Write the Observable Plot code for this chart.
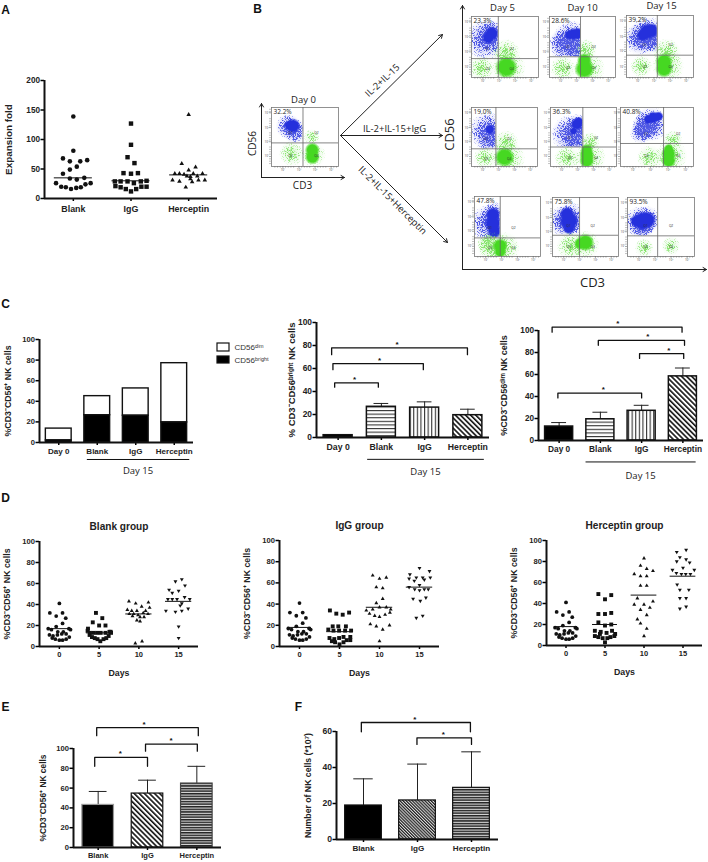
<!DOCTYPE html>
<html><head><meta charset="utf-8">
<script src="https://cdn.jsdelivr.net/npm/d3@7"></script>
<script src="https://cdn.jsdelivr.net/npm/@observablehq/plot@0.6"></script>
<style>
html,body{margin:0;padding:0;background:#fff;overflow:hidden}
#root{position:relative;width:708px;height:862px;overflow:hidden}
#root svg{position:absolute;overflow:visible;background:transparent}
</style></head><body>
<svg width="0" height="0" style="position:absolute">
<defs>
<pattern id="hl" width="3" height="3.6" patternUnits="userSpaceOnUse"><rect width="3" height="3.6" fill="#fff"/><rect width="3" height="1.1" fill="#333"/></pattern>
<pattern id="vl" width="3.6" height="3" patternUnits="userSpaceOnUse"><rect width="3.6" height="3" fill="#fff"/><rect width="1.1" height="3" fill="#333"/></pattern>
<pattern id="dg" width="3.6" height="3.6" patternUnits="userSpaceOnUse" patternTransform="rotate(-45)"><rect width="3.6" height="3.6" fill="#fff"/><rect width="1.6" height="3.6" fill="#111"/></pattern>
<pattern id="dgf" width="2.2" height="2.2" patternUnits="userSpaceOnUse" patternTransform="rotate(-45)"><rect width="2.2" height="2.2" fill="#ddd"/><rect width="1.2" height="2.2" fill="#222"/></pattern>
<pattern id="hlf" width="3" height="2.6" patternUnits="userSpaceOnUse"><rect width="3" height="2.6" fill="#ddd"/><rect width="3" height="1.5" fill="#222"/></pattern>
<radialGradient id="gB"><stop offset="0" stop-color="#2d38dc"/><stop offset=".5" stop-color="#2d38dc" stop-opacity=".65"/><stop offset="1" stop-color="#2d38dc" stop-opacity="0"/></radialGradient>
<radialGradient id="gG"><stop offset="0" stop-color="#46d822"/><stop offset=".45" stop-color="#46d822" stop-opacity=".5"/><stop offset="1" stop-color="#46d822" stop-opacity="0"/></radialGradient>
<radialGradient id="cB"><stop offset="0" stop-color="#2530dc"/><stop offset=".65" stop-color="#2530dc"/><stop offset="1" stop-color="#2530dc" stop-opacity=".1"/></radialGradient>
<radialGradient id="cG"><stop offset="0" stop-color="#46d822"/><stop offset=".65" stop-color="#46d822"/><stop offset="1" stop-color="#46d822" stop-opacity=".1"/></radialGradient>
<filter id="stB" x="-10%" y="-10%" width="120%" height="120%" color-interpolation-filters="sRGB">
 <feTurbulence type="fractalNoise" baseFrequency="1.5" numOctaves="2" seed="4" result="n"/>
 <feColorMatrix in="n" type="matrix" values="0 0 0 0 0 0 0 0 0 0 0 0 0 0 0 3 0 0 0 -1" result="na"/>
 <feComposite in="SourceAlpha" in2="na" operator="arithmetic" k1="0" k2="1" k3="1" k4="-1" result="m"/>
 <feComponentTransfer in="m" result="mm"><feFuncA type="linear" slope="2.5"/></feComponentTransfer>
 <feFlood flood-color="#4f58e4"/><feComposite in2="mm" operator="in"/>
</filter>
<filter id="stG" x="-10%" y="-10%" width="120%" height="120%" color-interpolation-filters="sRGB">
 <feTurbulence type="fractalNoise" baseFrequency="1.5" numOctaves="2" seed="9" result="n"/>
 <feColorMatrix in="n" type="matrix" values="0 0 0 0 0 0 0 0 0 0 0 0 0 0 0 3 0 0 0 -1" result="na"/>
 <feComposite in="SourceAlpha" in2="na" operator="arithmetic" k1="0" k2="1" k3="1" k4="-1" result="m"/>
 <feComponentTransfer in="m" result="mm"><feFuncA type="linear" slope="2"/></feComponentTransfer>
 <feFlood flood-color="#86e46c"/><feComposite in2="mm" operator="in"/>
</filter>
</defs></svg>
<div id="root"></div>
<script>
// ---------- Panel A ----------
const expansionGroups = ["Blank","IgG","Herceptin"];
const expBlank = [[0,139],[0,81],[-.18,68],[-.06,63],[.12,63],[.24,65],[.06,54],[-.06,49],[-.18,42],[-.06,34],[.06,32],[.19,35],[-.3,26],[-.21,20],[-.13,19],[-.04,16],[.05,18],[.13,19],[.21,24],[.3,26]];
const expIgG = [[0,127],[0,91],[-.06,70],[.06,60],[-.13,43],[0,42],[.12,43],[-.28,29],[-.18,29],[-.06,29],[.17,29],[.27,30],[-.27,21],[-.18,19],[-.09,16],[0,12],[.09,16],[.18,20],[.27,20],[.05,26]];
const expHer = [[0,142],[-.12,59],[.12,53],[0,48],[-.24,42],[-.16,42],[-.08,41],[.08,42],[.24,42],[-.03,38],[.03,37],[.15,38],[-.28,31],[-.16,29],[.03,33],[.06,28],[.17,31],[.28,31],[-.05,19]];
const expMedians = [35,30,40];
// ---------- Panel D ----------
const dayLabels = ["0","5","10","15"];
const day0 = [[0,41],[-.24,32],[.08,32],[-.08,29],[.16,27],[.08,22],[-.08,19],[-.28,17],[-.2,16],[.24,17],[.28,16],[-.04,14],[.1,14],[-.25,11],[-.16,10],[-.05,11],[.06,12],[.17,12],[-.18,8],[-.1,7],[0,6],[.08,6],[.17,7],[.25,9]];
const blank5 = [[-.08,32],[.08,27],[-.16,23],[0,20],[.16,20],[-.28,17],[-.29,15],[-.23,13],[-.14,13],[-.05,13],[.04,13],[.16,13],[.26,14],[.29,14],[-.24,11],[-.18,9],[-.11,8],[-.04,7],[.03,5],[.11,7],[.18,8],[.24,10],[.3,13]];
const blank10 = [[-.25,43],[-.08,41],[.24,42],[.07,38],[.27,37],[-.29,35],[-.18,34],[-.05,34],[.17,34],[-.24,31],[-.13,31],[-.02,30],[.11,32],[.23,31],[-.16,29],[.03,28],[.13,28],[-.05,25],[.03,24],[-.09,3],[.08,5]];
const blank15 = [[.08,64],[-.08,62],[.16,58],[-.24,54],[-.16,51],[0,53],[-.27,45],[-.16,45],[-.04,45],[.15,47],[.28,45],[.08,41],[.04,39],[-.32,34],[-.08,33],[.08,34],[.24,36],[0,19],[0,8]];
const igg5 = [[-.24,34],[-.08,31],[.08,30],[.24,32],[-.17,19],[-.03,19],[.16,19],[-.28,16],[-.15,15],[-.01,15],[.14,15],[.29,15],[-.25,8],[-.13,7],[-.01,8],[.1,9],[.27,9],[-.19,5],[-.11,4],[0,2],[.1,4],[.18,6],[.27,6]];
const igg10 = [[-.17,67],[0,64],[.17,65],[-.08,56],[.08,55],[-.08,41],[.08,45],[-.33,34],[-.17,35],[0,37],[.17,37],[.28,35],[-.25,31],[-.12,29],[0,28],[.14,30],[.26,32],[-.23,21],[-.08,19],[.08,16],[.25,20],[0,5]];
const igg15 = [[0,74],[.25,71],[-.24,68],[-.26,64],[-.08,65],[.08,65],[.27,65],[-.13,62],[.12,63],[-.26,56],[0,58],[-.12,54],[0,53],[.12,54],[.22,54],[-.16,45],[.02,43],[.16,46],[-.08,27],[.08,29]];
const her5 = [[-.17,49],[0,44],[.16,48],[-.17,30],[0,30],[.16,31],[-.17,22],[0,19],[.16,20],[-.26,14],[-.11,13],[.04,12],[.18,14],[-.26,9],[-.17,8],[-.06,7],[0,3],[.06,7],[.14,8],[.24,9],[-.13,11],[.26,11]];
const her10 = [[0,83],[-.09,76],[.07,73],[.23,71],[-.25,68],[-.09,66],[.07,66],[-.09,57],[.07,57],[-.17,45],[.23,42],[0,39],[-.25,39],[.15,36],[-.09,34],[.07,29],[-.17,25],[-.09,21],[.07,16],[0,9]];
const her15 = [[.08,91],[-.16,89],[-.08,84],[-.16,80],[.08,82],[.17,79],[0,74],[-.27,72],[.29,72],[-.17,69],[-.04,68],[.07,68],[.19,68],[-.15,58],[-.08,53],[.15,53],[-.08,45],[.08,45],[-.08,35],[.08,37]];
const blankMedians = [17,13,31,43], iggMedians = [18,14,37,56], herMedians = [18,20,48,66];
// ---------- Panel C ----------
const cCats = ["Day 0","Blank","IgG","Herceptin"];
const cBright = [2,26.5,26,19.5];
const cDim = [11.5,18.5,26.5,57.5];
const c2Values = [2,26.7,26,19.4], c2Errors = [2.6,29.6,31,24.6];
const c3Values = [12.7,19.3,27,58.3], c3Errors = [16.3,25.7,32,65.9];
// bracket: from, to, top, foot, star position
const c2Brackets = [[-.15,2.99,78,72,1.36],[-.12,1.97,64.3,59,.96],[-.08,.93,47.5,43.8,.38]];
const c3Brackets = [[-.17,2.98,103,98.5,1.42],[.95,3.04,91,86.6,2.15],[1.95,3.02,79,74.6,2.66],[-.03,2,43,38.7,1.07]];
// ---------- Panels E, F ----------
const efCats = ["Blank","IgG","Herceptin"];
const eValues = [43,54.5,64.6], eErrors = [56.6,68,82];
const fValues = [18.9,21.7,28.7], fErrors = [33.7,41.9,48.7];
const eBrackets = [[-.03,2.03,121,113,.93],[.96,2.01,104.4,97.3,1.48],[-.07,1,91,82,.45]];
const fBrackets = [[-.04,1.98,65,59.8,.95],[.99,2,56.5,52.8,1.48]];
// ---------- Panel B gates: percent, vertical gate, horizontal gate, blobs (x%, y%, r) ----------
const flowTicks = ["10\u00b2","10\u00b3","10\u2074","10\u2075"];
const flowData = [
 {id:"d0", pct:"32.2%",v:47,h:40,bh:[[25,68,8],[35,60,8]],bc:[[26,70,4],[32,69,6]],gh:[[60,50,5],[30,22,8],[62,20,8]],gc:[[61,28,6],[61,16,6]]},
 {id:"r1a",pct:"23.3%",v:40,h:31,bh:[[22,62,13],[30,70,9]],bc:[[30,72,6],[25,65,5]],gh:[[51,40,9],[15,15,8],[55,15,11]],gc:[[52,17,9]]},
 {id:"r1b",pct:"28.6%",v:47,h:34,bh:[[22,55,10],[35,60,13],[42,45,8]],bc:[[30,70,4],[36,71,5],[43,72,5]],gh:[[55,45,7],[20,15,8],[60,15,10]],gc:[[53,28,6],[53,14,8]]},
 {id:"r1c",pct:"39.2%",v:46,h:36,bh:[[20,62,10],[32,68,12],[42,60,8]],bc:[[24,68,5],[31,74,7],[38,76,6]],gh:[[60,40,9],[62,18,10],[22,18,7]],gc:[[56,25,7],[56,14,7]]},
 {id:"r2a",pct:"19.0%",v:37,h:30,bh:[[25,60,12],[28,45,8]],bc:[[28,63,4]],gh:[[52,40,8],[55,14,11],[20,15,7]],gc:[[50,16,8]]},
 {id:"r2b",pct:"36.3%",v:49,h:33,bh:[[30,55,12],[40,45,10],[42,68,8]],bc:[[40,72,5],[35,60,3],[43,76,4]],gh:[[60,42,6],[60,15,10],[25,15,8]],gc:[[55,20,6],[55,10,6],[55,28,5]]},
 {id:"r2c",pct:"40.8%",v:59,h:39,bh:[[35,68,9],[42,72,11],[28,58,7]],bc:[[38,80,4],[45,83,5],[52,85,4]],gh:[[72,45,6],[70,18,10],[40,15,8]],gc:[[66,22,6],[66,10,6],[66,30,4]]},
 {id:"r3a",pct:"47.8%",v:39,h:31,bh:[[22,55,12],[30,70,8]],bc:[[28,70,6],[28,55,7],[30,42,6]],gh:[[28,15,10],[45,15,10],[20,22,7]],gc:[[39,18,6],[39,8,5]]},
 {id:"r3b",pct:"75.8%",v:41,h:36,bh:[[18,60,10],[28,62,11]],bc:[[22,72,6],[25,60,8],[25,48,5]],gh:[[28,18,9],[50,20,9]],gc:[[50,24,7],[42,22,5]]},
 {id:"r3c",pct:"93.5%",v:45,h:35,bh:[[18,58,10],[28,62,9],[22,48,7]],bc:[[13,60,5],[22,60,8],[30,62,7]],gh:[[65,18,6],[25,15,6]],gc:[]}
];
// ---------- Layout, in page pixels ----------
const flowBoxes = {d0:[271,107,338,166],r1a:[471,16,538,77],r1b:[549,16,615,77],r1c:[626,15,693,77],r2a:[471,107,537,166],r2b:[550,107,616,166],r2c:[620,107,693,166],r3a:[474,196,540,256],r3b:[552,197,618,256],r3c:[627,197,694,256]};
const annotArrows = [[340,135,442,34],[340,135,442,135],[340,135,447,242],[462,269,462,5],[462,269,706,269],[261,177,261,103],[261,177,344,177]];
const annotTexts = [
 ["A",5,10,12,0,"b"],["B",257,9,12,0,"b"],["C",5,304,12,0,"b"],["D",5,498,12,0,"b"],["E",5,707,12,0,"b"],["F",298,707,12,0,"b"],
 ["Day 5",502,7,9.5,0],["Day 10",582,7,9.5,0],["Day 15",661,5,9.5,0],["Day 0",303,99,9.5,0],
 ["CD56",449,134,13,-90],["CD3",592,282,13,0],["CD56",252,143,10,-90],["CD3",302,185,10,0],
 ["IL-2+IL-15",382,80,9.5,-43],["IL-2+IL-15+IgG",394,128,9.5,0],["IL-2+IL-15+Herceptin",392,200,9.5,45],
 ["CD56\u1d48\u2071\u1d50",234,347,8,0,"s"],["CD56\u1d47\u02b3\u2071\u1d4d\u02b0\u1d57",234,360,8,0,"s"]
];
const legendBoxes = [[217,343,229,351,"#fff"],[217,356,229,363,"#000"]];

const FONT = "'Liberation Sans',Arial,sans-serif";
const root = document.getElementById("root");
function mount(svg,x,y){svg.style.left=x+"px";svg.style.top=y+"px";root.appendChild(svg);}

function axes(o){
  const x0 = o.xDomain[0], y0 = o.yDomain[0], ym = (o.yDomain[0]+o.yDomain[1])/2;
  return [
    Plot.axisY({ticks:o.yTicks,tickSize:3.5,tickPadding:1,fontSize:o.yFs,fontWeight:"bold",strokeWidth:1.5,label:null,fill:"#222"}),
    Plot.axisX({ticks:o.xTicks,tickFormat:o.xFmt,tickSize:o.xTickSize??3,tickPadding:o.xPad??3,fontSize:o.xFs,fontWeight:"bold",strokeWidth:1.5,label:null,fill:"#222"}),
    Plot.ruleX([x0],{strokeWidth:2,stroke:"#111"}),
    Plot.ruleY([y0],{strokeWidth:2,stroke:"#111"}),
    Plot.text([o.yLabel],{x:x0,y:ym,text:d=>d,dx:-o.labelOffset,rotate:-90,fontSize:o.labelFs,fontWeight:"bold",fill:"#222"})
  ];
}
function panel(o,marks){
  const mL=36,mR=5,mT=20,mB=24;
  const p = Plot.plot({
    width:(o.right-o.left)+mL+mR,height:(o.bottom-o.top)+mT+mB,
    marginLeft:mL,marginRight:mR,marginTop:mT,marginBottom:mB,
    style:{fontFamily:FONT,background:"transparent",overflow:"visible"},
    x:{domain:o.xDomain,axis:null},y:{domain:o.yDomain,axis:null},color:{type:"identity"},
    marks:[...marks,...axes(o)]
  });
  mount(p,o.left-mL,o.top-mT);
}
const points=(g,arr)=>arr.map(([dx,v])=>({x:g+dx,y:v}));
const triDown={draw(c,s){const r=Math.sqrt(s/(Math.sqrt(3)*.75));c.moveTo(0,r);c.lineTo(r*.866,-r/2);c.lineTo(-r*.866,-r/2);c.closePath();}};

function swarm(g,arr,sym,r,med,hw){
  return [
    Plot.dot(points(g,arr),{x:"x",y:"y",symbol:()=>sym,fill:"#111",stroke:"none",r}),
    Plot.ruleY([med],{x1:g-hw,x2:g+hw,y:d=>d,stroke:"#111",strokeWidth:1})
  ];
}
function bars(values,errors,fills,hw,capW,sw=1.5,strokes){
  const rows=values.map((v,i)=>({i,v,e:errors[i],f:fills[i],s:strokes?strokes[i]:"#111"}));
  return [
    Plot.ruleX(rows,{x:"i",y1:"v",y2:"e",stroke:"#222",strokeWidth:1}),
    Plot.ruleY(rows,{x1:d=>d.i-capW,x2:d=>d.i+capW,y:"e",stroke:"#222",strokeWidth:1}),
    Plot.rect(rows,{x1:d=>d.i-hw,x2:d=>d.i+hw,y1:()=>0,y2:"v",fill:"f",stroke:"s",strokeWidth:sw})
  ];
}
function brackets(list){
  const lines=list.map(([a,b,t,d])=>[[a,d],[a,t],[b,t],[b,d]]);
  return [
    ...lines.map(l=>Plot.line(l,{x:d=>d[0],y:d=>d[1],stroke:"#111",strokeWidth:1.3,curve:"linear"})),
    Plot.text(list,{x:d=>d[4],y:d=>d[2],text:()=>"*",dy:-3.5,fontSize:8,fontWeight:"bold",fill:"#111"})
  ];
}
function day15(x1,x2,yLine,yText,fs=9.5){
  return [
    Plot.line([[x1,yLine],[x2,yLine]],{x:d=>d[0],y:d=>d[1],stroke:"#111",strokeWidth:1}),
    Plot.text(["Day 15"],{x:(x1+x2)/2,y:yText,text:d=>d,fontSize:fs,fontFamily:"'Open Sans',sans-serif",fill:"#222"})
  ];
}

// A
panel({left:44,right:217,top:80,bottom:198,xDomain:[.5,3.5],yDomain:[0,200],yTicks:[0,50,100,150,200],xTicks:[1,2,3],xFmt:i=>expansionGroups[i-1],xFs:8.9,yFs:8.2,xPad:4,yLabel:"Expansion fold",labelOffset:36,labelFs:9.9},[
  ...swarm(1,expBlank,"circle",2.3,expMedians[0],.33),
  ...swarm(2,expIgG,"square",2.5,expMedians[1],.33),
  ...swarm(3,expHer,"triangle",1.7,expMedians[2],.33)
]);
// D
function dPanel(left,right,top,bottom,title,sets,meds){
  panel({left,right,top,bottom,xDomain:[-.5,3.5],yDomain:[0,100],yTicks:[0,20,40,60,80,100],xTicks:[0,1,2,3],xFmt:i=>dayLabels[i],xFs:7.5,yFs:7.6,xPad:2,yLabel:"%CD3\u207bCD56\u207a NK cells",labelOffset:32,labelFs:8.8},[
    ...swarm(0,day0,"circle",1.9,meds[0],.3),
    ...swarm(1,sets[0],"square",2.2,meds[1],.32),
    ...swarm(2,sets[1],"triangle",1.45,meds[2],.33),
    ...swarm(3,sets[2],triDown,1.45,meds[3],.33),
    Plot.text([title],{x:1.5,y:114,text:d=>d,fontSize:10.1,fontWeight:"bold",fill:"#222"}),
    Plot.text(["Days"],{x:1.5,y:-25,text:d=>d,fontSize:8.8,fontWeight:"bold",fill:"#222"})
  ]);
}
dPanel(39,198,541,646,"Blank group",[blank5,blank10,blank15],blankMedians);
dPanel(279,439,540,646,"IgG group",[igg5,igg10,igg15],iggMedians);
dPanel(546,702,540,645,"Herceptin group",[her5,her10,her15],herMedians);

// C1 stacked
const stacked = cCats.map((c,i)=>({i,b:cBright[i],t:cBright[i]+cDim[i]}));
panel({left:39,right:193,top:339,bottom:442,xDomain:[-.5,3.5],yDomain:[0,100],yTicks:[0,20,40,60,80,100],xTicks:[0,1,2,3],xFmt:i=>cCats[i],xFs:8,yFs:7.6,xPad:3,yLabel:"%CD3\u207bCD56\u207a NK cells",labelOffset:31.5,labelFs:8.8},[
  Plot.rect(stacked,{x1:d=>d.i-.335,x2:d=>d.i+.335,y1:"b",y2:"t",fill:"#fff",stroke:"#111",strokeWidth:1.4}),
  Plot.rect(stacked,{x1:d=>d.i-.335,x2:d=>d.i+.335,y1:()=>0,y2:"b",fill:"#000",stroke:"#111",strokeWidth:1.4}),
  ...day15(.74,3.38,-16.5,-27.5)
]);
// C2
panel({left:316,right:489,top:322,bottom:437,xDomain:[-.5,3.5],yDomain:[0,100],yTicks:[0,20,40,60,80,100],xTicks:[0,1,2,3],xFmt:i=>cCats[i],xFs:8.7,yFs:8.4,xPad:3,yLabel:"% CD3\u207bCD56\u1d47\u02b3\u2071\u1d4d\u02b0\u1d57 NK cells",labelOffset:25,labelFs:9.5},[
  ...bars(c2Values,c2Errors,["#000","url(#hl)","url(#vl)","url(#dg)"],.335,.17),
  ...brackets(c2Brackets),
  ...day15(.68,3.36,-19,-30)
]);
// C3
panel({left:538,right:703,top:330,bottom:440,xDomain:[-.5,3.5],yDomain:[0,100],yTicks:[0,20,40,60,80,100],xTicks:[0,1,2,3],xFmt:i=>cCats[i],xFs:8.3,yFs:8.2,xPad:3,yLabel:"%CD3\u207bCD56\u1d48\u2071\u1d50 NK cells",labelOffset:34,labelFs:9},[
  ...bars(c3Values,c3Errors,["#000","url(#hl)","url(#vl)","url(#dg)"],.34,.18),
  ...brackets(c3Brackets),
  ...day15(.65,3.3,-19.5,-32)
]);
// E
panel({left:73,right:221,top:748,bottom:847,xDomain:[-.5,2.5],yDomain:[0,100],yTicks:[0,20,40,60,80,100],xTicks:[0,1,2],xFmt:i=>efCats[i],xFs:7.5,yFs:7.6,xPad:2,yLabel:"%CD3\u207bCD56\u207a NK cells",labelOffset:30,labelFs:8.4},[
  ...bars(eValues,eErrors,["#000","url(#dg)","url(#hlf)"],.32,.18,1.2,["#999","#111","#444"]),
  ...brackets(eBrackets)
]);
// F
panel({left:336,right:498,top:731,bottom:839,xDomain:[-.5,2.5],yDomain:[0,60],yTicks:[0,20,40,60],xTicks:[0,1,2],xFmt:i=>efCats[i],xFs:8.1,yFs:8.6,xPad:3,yLabel:"Number of NK cells (*10\u2077)",labelOffset:28,labelFs:8.7},[
  ...bars(fValues,fErrors,["#000","url(#dgf)","url(#hlf)"],.34,.18,1.2),
  ...brackets(fBrackets)
]);

// B: flow cytometry plots
const minor=[5,9,13,21,25,29,33,45,49,53,57,69,73,77,81,93,97];
for(const f of flowData){
  const [l,t,r,b]=flowBoxes[f.id];
  const mL=9,mB=8,mT=1,mR=1;
  const xy=(k)=>({x:d=>d[0],y:d=>d[1],r:d=>d[2]*k,clip:"frame"});
  const qs=[["Q1",f.v*.6,f.h+16],["Q2",f.v+20,f.h+16],["Q3",f.v*.6,f.h*.45],["Q4",f.v+20,f.h*.45]];
  const svg=Plot.plot({
    width:r-l+mL+mR,height:b-t+mT+mB,marginLeft:mL,marginRight:mR,marginTop:mT,marginBottom:mB,
    style:{fontFamily:"'Open Sans',sans-serif",background:"transparent",overflow:"visible"},
    x:{domain:[0,100],axis:null},y:{domain:[0,100],axis:null},r:{type:"identity"},
    marks:[
      Plot.dot(f.bh,{...xy(1.6),fill:"url(#gB)",fillOpacity:.25}),
      Plot.dot(f.bh,{...xy(1.6),fill:"url(#gB)",imageFilter:"url(#stB)"}),
      Plot.dot(f.bc,{...xy(1.25),fill:"url(#cB)",imageFilter:"blur(.7px)"}),
      // cells outside the upper-left gate are not painted blue
      Plot.rect([[f.v,100,0,100],[0,f.v,0,f.h]],{x1:d=>d[0],x2:d=>d[1],y1:d=>d[2],y2:d=>d[3],fill:"#fff"}),
      Plot.dot(f.gh,{...xy(1.6),fill:"url(#gG)",fillOpacity:.2}),
      Plot.dot(f.gh,{...xy(1.6),fill:"url(#gG)",imageFilter:"url(#stG)"}),
      Plot.dot(f.gc,{...xy(1.25),fill:"url(#cG)",imageFilter:"blur(.7px)"}),
      Plot.frame({stroke:"#777",strokeWidth:.8}),
      Plot.ruleX([f.v],{stroke:"#666",strokeWidth:.8}),
      Plot.ruleY([f.h],{stroke:"#666",strokeWidth:.8}),
      Plot.text(qs,{x:d=>d[1],y:d=>d[2],text:d=>d[0],fontSize:3.2,fill:"#333"}),
      Plot.text([f.pct],{frameAnchor:"top-left",dx:2,dy:2,fontSize:6.5,fill:"#222",text:d=>d}),
      Plot.ruleX(minor,{x:d=>d,y1:0,y2:-3,stroke:"#666",strokeWidth:.4}),
      Plot.ruleY(minor,{y:d=>d,x1:0,x2:-3,stroke:"#666",strokeWidth:.4}),
      Plot.axisX({ticks:[17,41,65,89],tickFormat:(d,i)=>flowTicks[i],fontSize:3,tickSize:2,tickPadding:.5,strokeWidth:.5,stroke:"#555",label:null,fill:"#444"}),
      Plot.axisY({ticks:[17,42,66,91],tickFormat:(d,i)=>flowTicks[i],fontSize:3,tickSize:2,tickPadding:.5,strokeWidth:.5,stroke:"#555",label:null,fill:"#444"})
    ]
  });
  mount(svg,l-mL,t-mT);
}
// Annotation layer: panel letters, labels, arrows and legend
const overlay=Plot.plot({
  width:708,height:862,margin:0,
  style:{fontFamily:FONT,background:"transparent",overflow:"visible"},
  x:{domain:[0,708],axis:null},y:{domain:[0,862],range:[0,862],axis:null},color:{type:"identity"},
  marks:[
    Plot.arrow(annotArrows,{x1:d=>d[0],y1:d=>d[1],x2:d=>d[2],y2:d=>d[3],bend:0,stroke:"#222",strokeWidth:1,headLength:6}),
    Plot.rect(legendBoxes,{x1:d=>d[0],y1:d=>d[1],x2:d=>d[2],y2:d=>d[3],fill:d=>d[4],stroke:"#111",strokeWidth:1.2}),
    Plot.text(annotTexts.filter(d=>!d[5]),{x:d=>d[1],y:d=>d[2],text:d=>d[0],fontSize:d=>d[3],rotate:d=>d[4],fontFamily:"'Open Sans',sans-serif",fill:"#222"}),
    Plot.text(annotTexts.filter(d=>d[5]==="b"),{x:d=>d[1],y:d=>d[2],text:d=>d[0],fontSize:d=>d[3],fontWeight:"bold",fill:"#111"}),
    Plot.text(annotTexts.filter(d=>d[5]==="s"),{x:d=>d[1],y:d=>d[2],text:d=>d[0],fontSize:d=>d[3],textAnchor:"start",fill:"#333"})
  ]
});
mount(overlay,0,0);
</script></body></html>
